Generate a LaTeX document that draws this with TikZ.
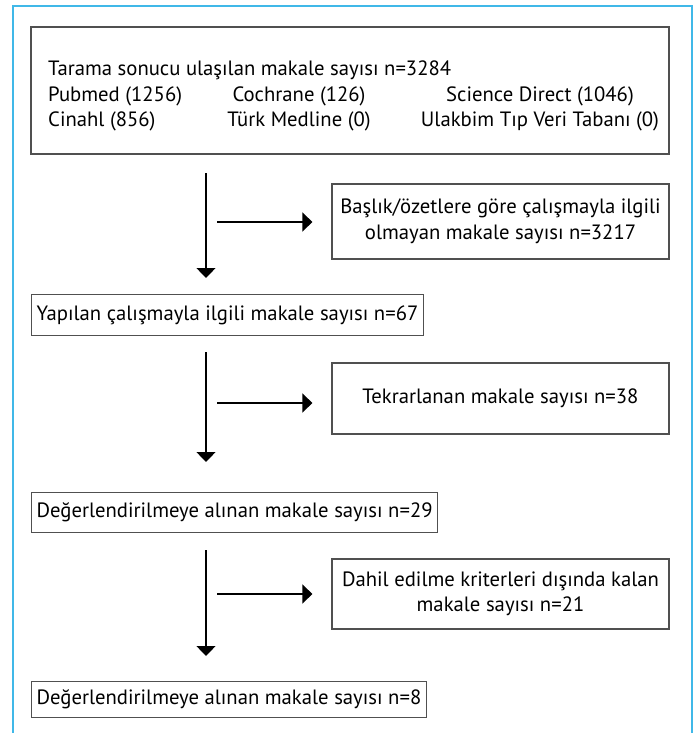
\documentclass[tikz,border=0pt]{standalone}
\usepackage{fontspec}
\setmainfont{PT Sans}
\usetikzlibrary{arrows.meta,positioning}
\definecolor{framecyan}{RGB}{64,184,232}
\definecolor{boxgray}{RGB}{80,80,80}
\newcommand\flowfont{\fontsize{20.7}{25.5}\selectfont}

\begin{document}
\begin{tikzpicture}[x=1pt,y=-1pt]
\tikzset{
  frameline/.style={draw=framecyan,line width=2pt},
  box/.style={draw=boxgray,line width=1.2pt,inner sep=0pt,font=\flowfont},
  mainbox/.style={box,anchor=north west,inner xsep=5pt,minimum height=40pt},
  sidebox/.style={box,align=center,minimum width=337pt},
  txt/.style={inner sep=0pt,font=\flowfont},
  flow/.style={line width=1.3pt,-{Triangle[length=10pt,width=19pt]}},
}
\useasboundingbox (0,0) rectangle (696,733);
% open frame
\draw[frameline] (13,733) -- (13,6) -- (692,6) -- (692,733);

% search results
\node[box,minimum width=638pt,minimum height=127pt] (srch) at (350,90.5) {};
\node[txt,anchor=base west] (srchall) at (48,76) {Tarama sonucu ulaşılan makale sayısı n=3284};
\node[txt,anchor=base west] (pubmed) at (48,101.5) {Pubmed (1256)};
\node[txt,anchor=base] (cochrane) at (299,101.5) {Cochrane (126)};
\node[txt,anchor=base] (scidir) at (540,101.5) {Science Direct (1046)};
\node[txt,anchor=base west] (cinahl) at (48,127) {Cinahl (856)};
\node[txt,anchor=base] (turkmed) at (299,127) {Türk Medline (0)};
\node[txt,anchor=base] (ulakbim) at (540,127) {Ulakbim Tıp Veri Tabanı (0)};

% main column
\node[mainbox,minimum height=41pt] (rel) at (31,294) {Yapılan çalışmayla ilgili makale sayısı n=67};
\node[mainbox] (eval) at (31,492) {Değerlendirilmeye alınan makale sayısı n=29};
\node[mainbox,minimum height=36pt] (final) at (31,681) {Değerlendirilmeye alınan makale sayısı n=8};

% excluded
\node[sidebox,minimum height=75pt] (title) at (500.5,221.5) {Başlık/özetlere göre çalışmayla ilgili\\olmayan makale sayısı n=3217};
\node[sidebox,minimum height=71pt] (dup) at (500.5,398.5) {Tekrarlanan makale sayısı n=38};
\node[sidebox,minimum height=70pt] (excl) at (500.5,594) {Dahil edilme kriterleri dışında kalan\\makale sayısı n=21};

\foreach \n/\ys/\ye/\yh/\side in {1/173/278/222/title,2/352/462/403/dup,3/550/656/594/excl}{
  \coordinate (v\n s) at (206,\ys);
  \coordinate (v\n e) at (206,\ye);
  \coordinate (h\n) at (217,\yh);
  \draw[flow] (v\n s) -- (v\n e);
  \draw[flow,shorten >=19pt] (h\n) -- (\side.west |- h\n);
}
\end{tikzpicture}
\end{document}
